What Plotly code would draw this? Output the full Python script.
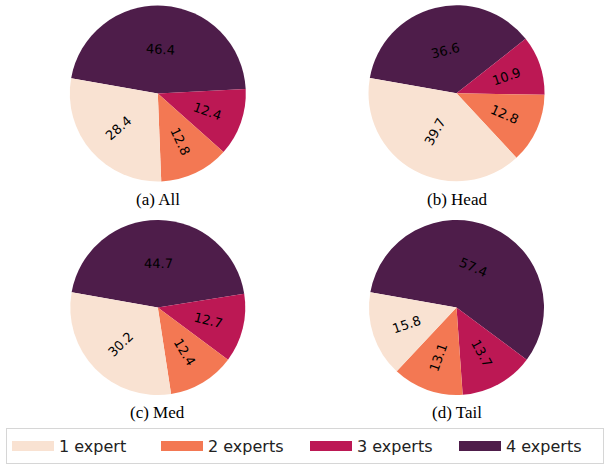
import math
import plotly.graph_objects as go

# ---- data ----
categories = ["1 expert", "2 experts", "3 experts", "4 experts"]
panel_titles = ["(a) All", "(b) Head", "(c) Med", "(d) Tail"]
values_all = [28.4, 12.8, 12.4, 46.4]
values_head = [39.7, 12.8, 10.9, 36.6]
values_med = [30.2, 12.4, 12.7, 44.7]
values_tail = [15.8, 13.1, 13.7, 57.4]
panel_values = [values_all, values_head, values_med, values_tail]

# ---- style ----
colors = ["#F9E2D2", "#F37853", "#BC1854", "#4E1D4A"]
label_orient = ["radial", "radial", "radial", "tangential"]
W, H = 605, 464
START_ANGLE = 170  # ccw from +x, where the "1 expert" slice begins
# pie boxes in pixels: (cx, cy, r)
boxes = [(157.8, 93.5, 88), (456.5, 93.3, 88), (157.8, 307.5, 87.5), (456.5, 307.5, 87.5)]
caption_y = [199, 199, 412, 412]

fig = go.Figure()


def fmt(v):
    return f"{v:.1f}"


for vals, (cx, cy, r) in zip(panel_values, boxes):
    dom = dict(x=[(cx - r) / W, (cx + r) / W], y=[1 - (cy + r) / H, 1 - (cy - r) / H])
    # counter-clockwise order 1,2,3,4 == clockwise order 4,3,2,1 starting at START_ANGLE
    fig.add_trace(go.Pie(values=vals[::-1], labels=categories[::-1], domain=dom, sort=False,
                         direction="clockwise", rotation=90 - START_ANGLE, showlegend=False,
                         marker=dict(colors=colors[::-1]), textinfo="none", hoverinfo="label+value"))
    # percentage labels, rotated radially / tangentially like the original
    total = sum(vals)
    acc = START_ANGLE
    for v, orient in zip(vals, label_orient):
        span = 360 * v / total
        mid = acc + span / 2
        acc += span
        frac = 0.5 if v / total > 0.35 else 0.6
        x = cx + frac * r * math.cos(math.radians(mid))
        y = cy - frac * r * math.sin(math.radians(mid))
        a = mid if orient == "radial" else mid - 90
        a = a % 360
        if 90 < a <= 270:
            a -= 180
        if a > 180:
            a -= 360
        fig.add_annotation(text=fmt(v), x=x / W, y=1 - y / H, xref="paper", yref="paper",
                           showarrow=False, xanchor="center", yanchor="middle", textangle=-a,
                           font=dict(family="DejaVu Sans", size=13, color="black"))

# legend proxies
for c, name in zip(colors, categories):
    fig.add_trace(go.Scatter(x=[None], y=[None], mode="lines", name=name,
                             line=dict(color=c, width=11), showlegend=True))

for t, (cx, cy, r), capy in zip(panel_titles, boxes, caption_y):
    fig.add_annotation(text=t, x=cx / W, y=1 - capy / H, xref="paper", yref="paper",
                       showarrow=False, xanchor="center", yanchor="middle",
                       font=dict(family="Liberation Serif", size=17, color="black"))

fig.update_layout(
    width=W, height=H, margin=dict(l=0, r=0, t=0, b=0),
    paper_bgcolor="white", plot_bgcolor="white",
    xaxis=dict(visible=False), yaxis=dict(visible=False),
    legend=dict(orientation="h", xref="paper", yref="paper",
                x=6 / W, xanchor="left", y=0, yanchor="bottom",
                font=dict(family="DejaVu Sans", size=16, color="#222222"),
                bordercolor="#d6d6d6", borderwidth=1, bgcolor="white",
                itemwidth=42, entrywidth=92),
)

fig.write_html("out.html")
